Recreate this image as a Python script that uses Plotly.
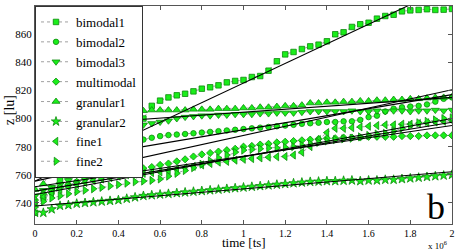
import plotly.graph_objects as go

# time axis in [ts]; markers every 0.04e6
time_ts = [i * 40000 for i in range(51)]

bimodal1 = [733, 745.5, 750.5, 756, 759.5, 761.5, 763.5, 766, 770, 775, 780, 785, 792, 800, 809, 812.7,
            815, 816.5, 817.6, 819.3, 821.2, 822.2, 823.6, 825.7, 826.7, 827.4, 829.5, 830.2, 834, 840.7,
            845.6, 847.3, 849.4, 851.3, 852.5, 854.9, 859.9, 861.3, 865.1, 867, 868.1, 871, 872.9, 873.8,
            876.2, 876.9, 877.2, 877.7, 877.2, 877.4, 877.9]
bimodal2 = [740, 743, 747, 751, 752.5, 755, 757.5, 759.5, 761, 763, 766, 772, 782.5, 785, 786.3, 787.5,
            788.2, 788.6, 789, 789.5, 790, 790.5, 791, 791.5, 792, 792.5, 793, 793.5, 794, 794.5,
            795, 795.5, 796.2, 796.6, 797, 797.5, 797.5, 798, 798, 799, 801, 802, 805, 807,
            808, 808.5, 809, 810, 812, 814, 815]
bimodal3 = [745, 749, 751, 753, 756, 760, 763.5, 768, 771, 777, 782, 788.5, 793, 795.5, 796.5, 797.5,
            798.4, 800, 801, 801.5, 802, 802, 802.5, 802.5, 803, 803, 803, 803.5, 803.5, 804,
            804, 804, 804.5, 805, 805, 805, 805, 805, 805.5, 805, 805, 805.5, 805, 805.5,
            805.5, 805, 805.5, 805.5, 806, 805.5, 806]
multimodal = [742, 746, 749, 751, 753, 755, 757, 758.5, 759.5, 760.5, 761.5, 762.5, 763.5, 764.5, 765.5, 767,
              768, 769.5, 771, 773, 774.5, 775.5, 776.5, 777.5, 778.5, 780, 780.5, 781.5, 782, 783,
              783.5, 784, 784.5, 785, 785.5, 786, 786, 786.5, 786.5, 786.5, 787, 787, 787, 787,
              787.5, 787.5, 787.5, 788, 788, 788, 788]
granular1 = [749.5, 753.5, 764, 773, 781, 788, 794, 798, 801, 803, 803.5, 804, 805, 805.5, 806, 806,
             806, 806, 806, 806.5, 806.5, 806.5, 807, 807, 807, 807.5, 807.5, 808, 808, 808.5,
             809, 809, 809.5, 811, 811, 811.5, 811.5, 812, 812, 812.5, 812.5, 813, 813, 813.5,
             813.5, 814, 814, 814.5, 815, 815, 815.5]
granular2 = [733, 733, 735.5, 738, 738.5, 739.5, 740, 740.5, 741, 741.5, 742, 743, 744, 745, 745.5, 746,
             746.5, 747, 747.5, 748, 748.5, 749, 749.5, 750, 750.5, 751, 751.5, 752, 752.5, 753,
             753.5, 754, 754.5, 755, 755.2, 755.5, 755.5, 755.8, 756, 755.5, 756, 756, 756.5, 756.5,
             757, 757.5, 758, 758.5, 759, 759.5, 760]
fine1 = [740, 744, 747, 749.5, 751.5, 753, 754.5, 756, 757, 758, 759, 760, 760.5, 761, 761.5, 762,
         763, 764, 765, 766, 767, 768, 769, 769.5, 770.4, 771, 771.5, 772, 772.5, 772.8,
         773, 774, 776, 780, 785, 790, 793, 793, 793.5, 794, 794.5, 795, 795.5, 795.5,
         796, 796, 796.5, 797, 797.5, 798, 798.5]
fine2 = [737, 741, 743.5, 745, 746.5, 748, 749, 750, 751, 752, 753, 754, 755, 755.5, 756, 757,
         759, 761, 763, 765, 767.5, 770, 772, 774, 776, 777.5, 778, 778.5, 779, 779,
         779.5, 780, 781, 782, 783, 784, 785, 785.5, 786, 787, 788, 789, 789.5, 791,
         793, 795, 797, 798, 799, 800, 800.5]

series_names = ["bimodal1", "bimodal2", "bimodal3", "multimodal",
                "granular1", "granular2", "fine1", "fine2"]
series_values = [bimodal1, bimodal2, bimodal3, multimodal, granular1, granular2, fine1, fine2]
symbols = ["square", "circle", "triangle-down", "diamond",
           "triangle-up", "star", "triangle-left", "triangle-right"]

# linear fits: z = intercept + slope * t  (t in 1e6 ts)
fit_intercept = [755.5, 755.5, 794.0, 751.5, 767.0, 737.8, 746.0, 748.4]
fit_slope = [69.7, 32.5, 10.5, 21.75, 25.0, 12.2, 27.0, 24.5]
fit_t = [0, 2000000]

x_tickvals = [0, 200000, 400000, 600000, 800000, 1000000, 1200000, 1400000, 1600000, 1800000, 2000000]
x_ticktext = ["0", "0.2", "0.4", "0.6", "0.8", "1", "1.2", "1.4", "1.6", "1.8", "2"]
y_tickvals = [740, 760, 780, 800, 820, 840, 860, 880]

SERIF = "Times New Roman, Liberation Serif, serif"
fig = go.Figure()

for name, vals, sym in zip(series_names, series_values, symbols):
    size = 7 if sym.startswith("triangle") or sym == "star" else 5.5
    fig.add_trace(go.Scatter(
        x=time_ts, y=vals, name=name, mode="lines+markers",
        line=dict(color="#a0a0a0", width=1, dash="dot"),
        marker=dict(symbol=sym, size=size, color="#1aee1a",
                    line=dict(color="#0c8a0c", width=0.8)),
    ))

for b, s in zip(fit_intercept, fit_slope):
    fig.add_trace(go.Scatter(
        x=fit_t, y=[b + s * t / 1e6 for t in fit_t], mode="lines",
        line=dict(color="black", width=1.1), showlegend=False, hoverinfo="skip",
    ))

fig.update_layout(
    width=458, height=250,
    margin=dict(l=35, r=3, t=6, b=26),
    paper_bgcolor="white", plot_bgcolor="white",
    font=dict(family=SERIF, size=10, color="black"),
    showlegend=True,
    legend=dict(x=0, y=1, xanchor="left", yanchor="top",
                bgcolor="white", bordercolor="#333333", borderwidth=1,
                font=dict(family=SERIF, size=13), itemwidth=30,
                tracegroupgap=0),
    xaxis=dict(range=[0, 2000000], tickvals=x_tickvals, ticktext=x_ticktext,
               ticks="inside", ticklen=4, tickcolor="#555555",
               showline=True, linecolor="#555555", linewidth=1, mirror="ticks",
               showgrid=False, zeroline=False, tickfont=dict(family=SERIF, size=10)),
    yaxis=dict(range=[725, 880], tickvals=y_tickvals,
               ticks="inside", ticklen=4, tickcolor="#555555",
               showline=True, linecolor="#555555", linewidth=1, mirror="ticks",
               showgrid=False, zeroline=False, tickfont=dict(family=SERIF, size=11)),
    annotations=[
        dict(text="time [ts]", xref="paper", yref="paper", x=0.5, y=-0.086,
             xanchor="center", yanchor="middle", showarrow=False,
             font=dict(family=SERIF, size=13)),
        dict(text="z [lu]", xref="paper", yref="paper", x=-0.06, y=0.523,
             xanchor="center", yanchor="middle", textangle=-90, showarrow=False,
             font=dict(family=SERIF, size=14)),
        dict(text="x 10<sup>6</sup>", xref="paper", yref="paper", x=0.993, y=-0.095,
             xanchor="right", yanchor="middle", showarrow=False,
             font=dict(family=SERIF, size=9)),
        dict(text="b", xref="paper", yref="paper", x=0.962, y=0.08,
             xanchor="center", yanchor="middle", showarrow=False,
             font=dict(family=SERIF, size=36)),
    ],
)

fig.write_html("out.html", config={"displayModeBar": False},
               post_script="document.body.style.margin='0';document.body.style.padding='0';")
